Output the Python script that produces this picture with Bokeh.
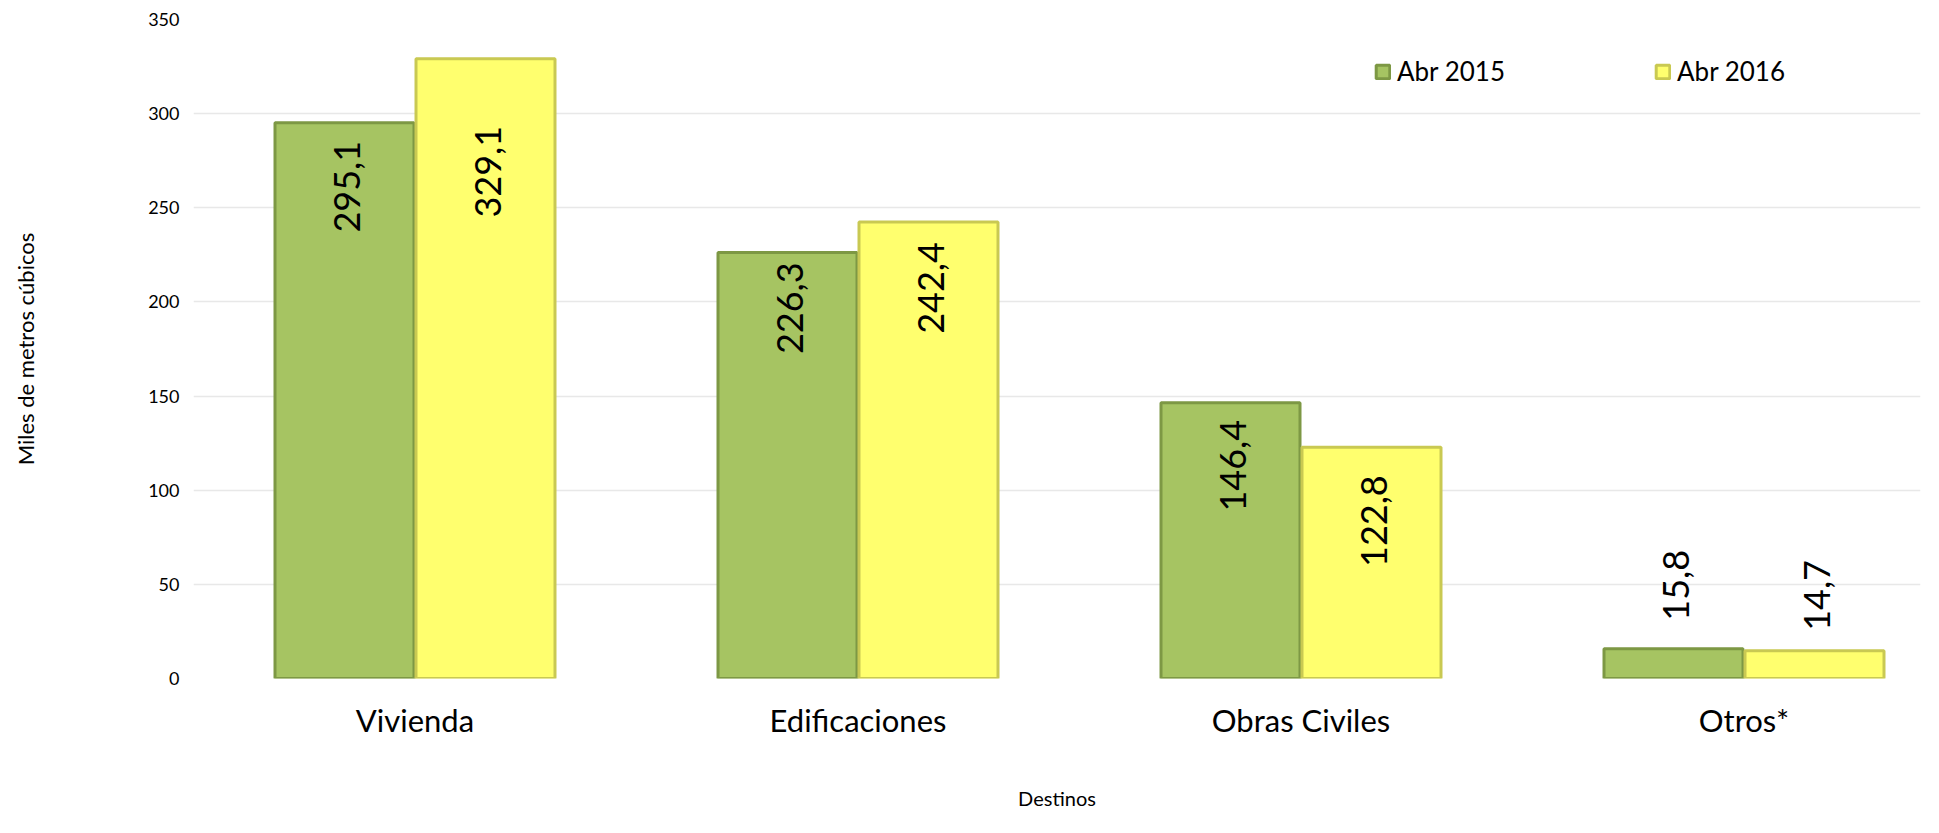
import math
from bokeh.plotting import figure
from bokeh.models import (ColumnDataSource, Range1d, FixedTicker, Legend, LegendItem)
from bokeh.core.properties import value
from bokeh.embed import file_html
from bokeh.resources import INLINE

categories = ["Vivienda", "Edificaciones", "Obras Civiles", "Otros*"]
series_names = ["Abr 2015", "Abr 2016"]
abr_2015 = [295.1, 226.3, 146.4, 15.8]
abr_2016 = [329.1, 242.4, 122.8, 14.7]
y_ticks = [0, 50, 100, 150, 200, 250, 300, 350]
y_title = "Miles de metros cúbicos"
x_title = "Destinos"

# ---- style ----
FONT = "Lato"
GREEN = "#A6C462"
GREEN_EDGE = "#7D9844"
YELLOW = "#FFFF6E"
YELLOW_EDGE = "#C9C952"
# pixel distance of each value label from its bar top (inside: below top, outside: above top)
DROP_2015 = [18, 10, 17, 28]
DROP_2016 = [67, 20, 28, 20]

W, H = 1923, 817
LEFT, TOP, RIGHT, BOTTOM = 193, 19, 3, 139
UNIT = 443.0
frame_w = W - LEFT - RIGHT
YMAX = 350

p = figure(width=W, height=H, output_backend="svg", toolbar_location=None,
           x_range=Range1d(-0.5, -0.5 + frame_w / UNIT), y_range=Range1d(0, YMAX),
           min_border_left=LEFT, min_border_top=TOP, min_border_right=RIGHT,
           min_border_bottom=BOTTOM, background_fill_color="white",
           border_fill_color="white")
p.outline_line_color = None

bw = 139 / UNIT
off = 70.5 / UNIT
xs = list(range(len(categories)))
x15 = [x - off for x in xs]
x16 = [x + off for x in xs]

def fmt(v):
    return f"{v:.1f}".replace(".", ",")

src15 = ColumnDataSource(dict(x=x15, top=abr_2015))
src16 = ColumnDataSource(dict(x=x16, top=abr_2016))

r15 = p.vbar(x="x", top="top", width=bw, bottom=0, source=src15,
             fill_color=GREEN, line_color=GREEN_EDGE, line_width=3)
r16 = p.vbar(x="x", top="top", width=bw, bottom=0, source=src16,
             fill_color=YELLOW, line_color=YELLOW_EDGE, line_width=3)

# value labels (rotated): inside the bar near its top, or above the bar if too short
for xv, vals, drops in ((x15, abr_2015, DROP_2015), (x16, abr_2016, DROP_2016)):
    ins = [i for i, v in enumerate(vals) if v >= 60]
    outs = [i for i, v in enumerate(vals) if v < 60]
    if ins:
        s = ColumnDataSource(dict(x=[xv[i] for i in ins], y=[vals[i] for i in ins],
                                  t=[fmt(vals[i]) for i in ins],
                                  dy=[drops[i] for i in ins]))
        p.text(x="x", y="y", text="t", source=s, angle=math.pi / 2,
               text_align="right", text_baseline="middle", y_offset="dy", x_offset=2,
               text_font=value(FONT), text_font_size="36px", text_color="black")
    if outs:
        s = ColumnDataSource(dict(x=[xv[i] for i in outs], y=[vals[i] for i in outs],
                                  t=[fmt(vals[i]) for i in outs],
                                  dy=[-drops[i] for i in outs]))
        p.text(x="x", y="y", text="t", source=s, angle=math.pi / 2,
               text_align="left", text_baseline="middle", y_offset="dy", x_offset=2,
               text_font=value(FONT), text_font_size="36px", text_color="black")

# axes
p.xgrid.grid_line_color = None
p.ygrid.grid_line_color = "#E8E8E8"
p.ygrid.grid_line_width = 1.5
p.yaxis.ticker = FixedTicker(ticks=y_ticks)
p.xaxis.ticker = FixedTicker(ticks=xs)
p.xaxis.major_label_overrides = {i: c for i, c in enumerate(categories)}

for ax in (p.xaxis, p.yaxis):
    ax.axis_line_color = None
    ax.major_tick_line_color = None
    ax.minor_tick_line_color = None
    ax.major_label_text_font = FONT
    ax.major_label_text_color = "black"
    ax.axis_label_text_font = FONT
    ax.axis_label_text_color = "black"
    ax.axis_label_text_font_style = "normal"

p.yaxis.major_label_text_font_size = "18px"
p.yaxis.major_label_standoff = 8
p.yaxis.axis_label = y_title
p.yaxis.axis_label_text_font_size = "22px"
p.yaxis.axis_label_standoff = 106

p.xaxis.major_label_text_font_size = "31px"
p.xaxis.major_label_standoff = 16
p.xaxis.axis_label = x_title
p.xaxis.axis_label_text_font_size = "20px"
p.xaxis.axis_label_standoff = 44

legend = Legend(items=[LegendItem(label=series_names[0], renderers=[r15]),
                       LegendItem(label=series_names[1], renderers=[r16])],
                orientation="horizontal", location=(1181, 591),
                glyph_width=17, glyph_height=17, label_standoff=6, spacing=149,
                padding=0, margin=0, border_line_color=None,
                background_fill_alpha=0, label_text_font=FONT,
                label_text_font_size="26px", label_text_color="black")
p.add_layout(legend)

open("out.html", "w").write(file_html(p, INLINE))
